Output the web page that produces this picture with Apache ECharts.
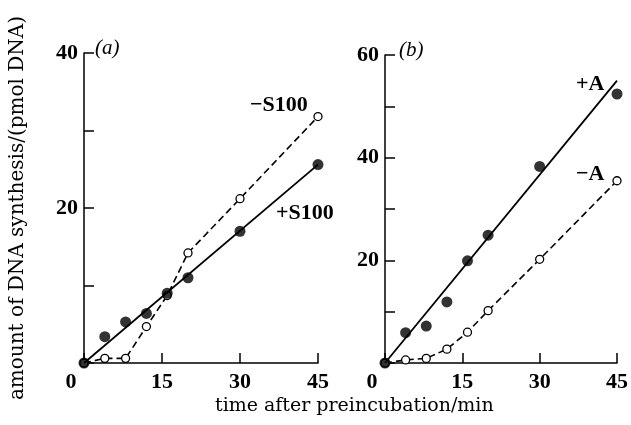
<!DOCTYPE html>
<html>
<head>
<meta charset="utf-8">
<script src="https://cdn.jsdelivr.net/npm/echarts@6/dist/echarts.min.js"></script>
<style>
html, body { margin: 0; padding: 0; background: #fff; }
#main { width: 631px; height: 425px; }
</style>
</head>
<body>
<div id="main"></div>
<script>
var myChart = echarts.init(document.getElementById('main'));

// time points (min), same for both panels
var times = [0, 4, 8, 12, 16, 20, 30, 45];
var xTicks = [0, 15, 30, 45];

// panel (a)
var plusS100 = [0, 3.4, 5.3, 6.4, 9.0, 11.0, 17.0, 25.6];
var minusS100 = [0, 0.6, 0.6, 4.7, 8.7, 14.2, 21.2, 31.8];
var fitS100 = [[0, 0], [45, 25.6]];

// panel (b)
var plusA = [0, 5.9, 7.2, 11.9, 19.9, 24.9, 38.3, 52.4];
var minusA = [0, 0.6, 0.9, 2.7, 6.0, 10.2, 20.2, 35.5];
var fitA = [[0, 0], [45, 55]];

var serif = '"Liberation Serif", "DejaVu Serif", serif';
var wideSerif = '"DejaVu Serif", serif';

function pairs(ys) {
    return ys.map(function (y, i) { return [times[i], y]; });
}

function xAxisOf(idx) {
    return {
        type: 'value', gridIndex: idx, min: 0, max: 45, interval: 15,
        axisLine: { lineStyle: { color: '#000', width: 1.5 } },
        axisTick: { inside: true, length: 10, lineStyle: { color: '#000', width: 1.5 } },
        splitLine: { show: false },
        axisLabel: {
            margin: 8,
            formatter: function (v) { return v === 0 ? '{z|0}' : '{n|' + v + '}'; },
            rich: {
                z: { fontFamily: serif, fontWeight: 'bold', fontSize: 22, color: '#000', padding: [0, 26, 0, 0] },
                n: { fontFamily: serif, fontWeight: 'bold', fontSize: 22, color: '#000' }
            }
        }
    };
}

function yAxisOf(idx, max) {
    return {
        type: 'value', gridIndex: idx, min: 0, max: max, interval: 10,
        axisLine: { lineStyle: { color: '#000', width: 1.5 } },
        axisTick: { inside: true, length: 10, lineStyle: { color: '#000', width: 1.5 } },
        splitLine: { show: false },
        axisLabel: {
            margin: 6, fontFamily: serif, fontWeight: 'bold', fontSize: 22, color: '#000',
            formatter: function (v) { return (v !== 0 && v % 20 === 0) ? v : ''; }
        }
    };
}

function openSeries(idx, ys) {
    return {
        type: 'line', xAxisIndex: idx, yAxisIndex: idx, data: pairs(ys),
        symbol: 'circle', symbolSize: 8,
        lineStyle: { color: '#000', width: 1.6, type: [7, 4] },
        itemStyle: { color: '#fff', borderColor: '#000', borderWidth: 1.3 },
        z: 2
    };
}

function filledSeries(idx, ys) {
    return {
        type: 'scatter', xAxisIndex: idx, yAxisIndex: idx, data: pairs(ys),
        symbol: 'circle', symbolSize: 11,
        itemStyle: { color: '#000' },
        z: 4
    };
}

function fitSeries(idx, pts) {
    return {
        type: 'line', xAxisIndex: idx, yAxisIndex: idx, data: pts,
        symbol: 'none', lineStyle: { color: '#000', width: 1.8 },
        z: 3
    };
}

function txt(x, y, s, style) {
    return {
        type: 'text', left: x, top: y,
        style: Object.assign({ text: s, fill: '#000', font: 'bold 22px ' + serif }, style || {})
    };
}

var yA = yAxisOf(0, 40);
yA.name = 'amount of DNA synthesis/(pmol DNA)';
yA.nameLocation = 'middle';
yA.nameGap = 56;
yA.nameTextStyle = { fontFamily: wideSerif, fontSize: 20, color: '#000' };

myChart.setOption({
    animation: false,
    backgroundColor: '#fff',
    grid: [
        { left: 84, top: 53, width: 234, height: 310 },
        { left: 385, top: 55, width: 233, height: 308 }
    ],
    xAxis: [xAxisOf(0), xAxisOf(1)],
    yAxis: [yA, yAxisOf(1, 60)],
    series: [
        openSeries(0, minusS100),
        fitSeries(0, fitS100),
        filledSeries(0, plusS100),
        openSeries(1, minusA),
        fitSeries(1, fitA),
        filledSeries(1, plusA)
    ],
    graphic: [
        txt(95, 38, '(a)', { font: 'italic 21px ' + serif }),
        txt(399, 40, '(b)', { font: 'italic 21px ' + serif }),
        txt(250, 94, '\u2212S100'),
        txt(276, 202, '+S100'),
        txt(576, 73, '+A'),
        txt(576, 163, '\u2212A'),
        txt(215, 397, 'time after preincubation/min', { font: '19px ' + wideSerif })
    ]
});
</script>
</body>
</html>
